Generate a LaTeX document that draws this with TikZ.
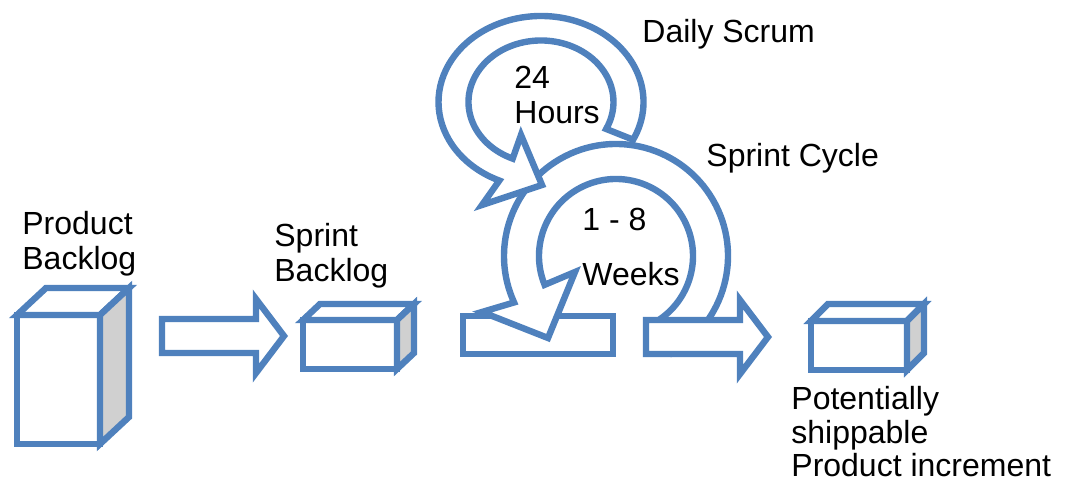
\documentclass[tikz,border=0pt]{standalone}
\usepackage{fontspec}
\setmainfont{Liberation Sans}
\usepackage{tikz}
\usetikzlibrary{calc}
\definecolor{scrumblue}{RGB}{79,129,189}
\definecolor{sidegray}{RGB}{208,208,208}
\tikzset{
  band/.style={draw=scrumblue,line width=3.2pt,fill=white},
  sideface/.style={band,fill=sidegray},
  lbl/.style={inner sep=0,anchor=base west,align=left,font={\fontsize{16}{17.5}\selectfont}}
}
\begin{document}
\begin{tikzpicture}[x=0.5pt,y=0.5pt]
\useasboundingbox (0,0) rectangle (1066,486);
\draw[band] (463,132) rectangle (613,170);
\draw[band] ($(616,230)+(-60:112)$) arc[start angle=-60,end angle=204.5,radius=112]
  -- (482,174) -- (548,148) -- (575,214)
  -- ($(616,230)+(202:77)$) arc[start angle=202,end angle=-60,radius=77] -- cycle;
\foreach \x/\y in {162/150,646/149}
  \draw[band] (\x,\y-17) -- (\x+94,\y-17) -- (\x+94,\y-37) -- (\x+122,\y)
    -- (\x+94,\y+37) -- (\x+94,\y+17) -- (\x,\y+17) -- cycle;
\draw[band] ($(541,384)+(-26:102.5 and 86)$) arc[start angle=-26,end angle=246,x radius=102.5,y radius=86]
  -- (482,281) -- (542,301) -- (521,351)
  -- ($(541,384)+(247:72.5 and 61.5)$) arc[start angle=247,end angle=-26,x radius=72.5,y radius=61.5] -- cycle;
\foreach \x/\y/\w/\h/\dx/\dy in {17/42/83/129/29/27,303/117/94/49/17/16,811/116/96/49/17/17}{
  \draw[band] (\x,\y) rectangle (\x+\w,\y+\h);
  \draw[band] (\x,\y+\h) -- (\x+\dx,\y+\h+\dy) -- (\x+\w+\dx,\y+\h+\dy) -- (\x+\w,\y+\h) -- cycle;
  \draw[sideface] (\x+\w,\y) -- (\x+\w+\dx,\y+\dy) -- (\x+\w+\dx,\y+\h+\dy) -- (\x+\w,\y+\h) -- cycle;
}
\node[lbl] (prodlog) at (22,216) {Product\\Backlog};
\node[lbl] (sprintlog) at (274,204) {Sprint\\Backlog};
\node[lbl] (increment) at (791,9) {Potentially\\[-0.6pt]shippable\\[-0.6pt]Product increment};
\node[lbl] (daily) at (642,443) {Daily Scrum};
\node[lbl] (cycle) at (706,319) {Sprint Cycle};
\node[lbl] (hours) at (514,362) {24\\Hours};
\node[lbl] (weeks) at (582,200) {1 - 8\\[10pt]Weeks};
\end{tikzpicture}
\end{document}
